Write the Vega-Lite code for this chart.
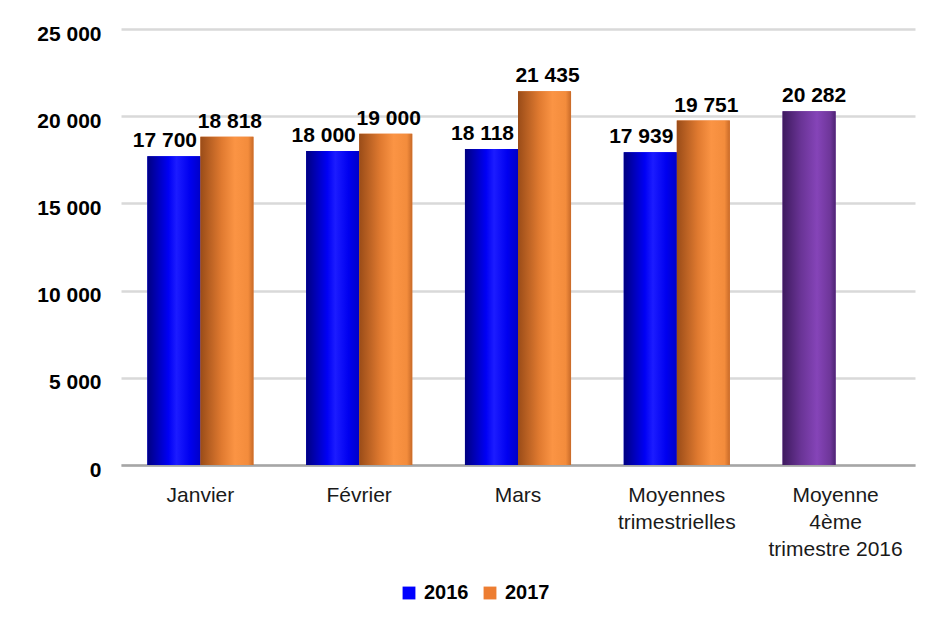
{
  "$schema": "https://vega.github.io/schema/vega-lite/v6.json",
  "width": 794,
  "height": 436,
  "autosize": {"type": "none"},
  "padding": {"left": 121, "top": 29, "right": 10, "bottom": 154},
  "background": "white",
  "config": {
    "locale": {"number": {"decimal": ",", "thousands": " ", "grouping": [3], "currency": ["", " €"]}},
    "view": {"stroke": null},
    "font": "Liberation Sans"
  },
  "data": {
    "values": [
      {"periode": "Janvier", "annee": "2016", "couleur": "2016", "valeur": 17700},
      {"periode": "Janvier", "annee": "2017", "couleur": "2017", "valeur": 18818},
      {"periode": "Février", "annee": "2016", "couleur": "2016", "valeur": 18000},
      {"periode": "Février", "annee": "2017", "couleur": "2017", "valeur": 19000},
      {"periode": "Mars", "annee": "2016", "couleur": "2016", "valeur": 18118},
      {"periode": "Mars", "annee": "2017", "couleur": "2017", "valeur": 21435},
      {"periode": "Moyennes trimestrielles", "annee": "2016", "couleur": "2016", "valeur": 17939},
      {"periode": "Moyennes trimestrielles", "annee": "2017", "couleur": "2017", "valeur": 19751},
      {"periode": "Moyenne 4ème trimestre 2016", "annee": "2016", "couleur": "T4 2016", "valeur": 20282}
    ]
  },
  "encoding": {
    "x": {
      "field": "periode",
      "type": "nominal",
      "sort": null,
      "scale": {"paddingInner": 0.332, "paddingOuter": 0.166},
      "axis": {
        "title": null,
        "labelAngle": 0,
        "labelFont": "Liberation Sans",
        "labelFontSize": 21,
        "labelColor": "#1a1a1a",
        "labelPadding": 19,
        "labelLineHeight": 27,
        "ticks": false,
        "domain": true,
        "domainColor": "#a6a6a6",
        "domainWidth": 2.5,
        "labelExpr": "datum.label == 'Moyennes trimestrielles' ? ['Moyennes', 'trimestrielles'] : datum.label == 'Moyenne 4ème trimestre 2016' ? ['Moyenne', '4ème', 'trimestre 2016'] : datum.label"
      }
    },
    "xOffset": {"field": "annee", "type": "nominal", "scale": {"domain": ["2016", "2017"], "paddingInner": 0, "paddingOuter": 0}},
    "y": {
      "field": "valeur",
      "type": "quantitative",
      "scale": {"domain": [0, 25000], "nice": false},
      "axis": {
        "title": null,
        "values": [0, 5000, 10000, 15000, 20000, 25000],
        "format": ",d",
        "labelFont": "Liberation Sans",
        "labelFontWeight": "bold",
        "labelFontSize": 21,
        "labelColor": "#000000",
        "labelPadding": 20,
        "labelOffset": 5,
        "ticks": false,
        "domain": false,
        "grid": true,
        "gridColor": "#d9d9d9",
        "gridWidth": 2.5
      }
    }
  },
  "layer": [
    {
      "mark": {"type": "bar"},
      "encoding": {
        "color": {
          "field": "couleur",
          "type": "nominal",
          "scale": {
            "domain": ["2016", "2017", "T4 2016"],
            "range": ["#0000ff", "#ed7d31", "#7030a0"]
          },
          "legend": {
            "values": ["2016", "2017"],
            "title": null,
            "orient": "none",
            "direction": "horizontal",
            "legendX": 278,
            "legendY": 554,
            "symbolType": "square",
            "symbolSize": 165,
            "symbolStrokeWidth": 0,
            "symbolOpacity": 1,
            "labelFont": "Liberation Sans",
            "labelFontWeight": "bold",
            "labelFontSize": 20,
            "labelColor": "#000000",
            "labelOffset": 5,
            "columnPadding": 11
          }
        }
      }
    },
    {
      "transform": [{"filter": "datum.couleur == '2016'"}],
      "mark": {"type": "bar", "color": {"gradient": "linear", "x1": 0, "y1": 0, "x2": 1, "y2": 0, "stops": [
        {"offset": 0, "color": "#000080"},
        {"offset": 0.4, "color": "#0000f5"},
        {"offset": 0.55, "color": "#1c1cff"},
        {"offset": 0.8, "color": "#0000f0"},
        {"offset": 1, "color": "#0000c8"}
      ]}}
    },
    {
      "transform": [{"filter": "datum.couleur == '2017'"}],
      "mark": {"type": "bar", "color": {"gradient": "linear", "x1": 0, "y1": 0, "x2": 1, "y2": 0, "stops": [
        {"offset": 0, "color": "#9a4c18"},
        {"offset": 0.4, "color": "#e07a30"},
        {"offset": 0.65, "color": "#fb9444"},
        {"offset": 0.9, "color": "#f38c3c"},
        {"offset": 1, "color": "#c86a28"}
      ]}}
    },
    {
      "transform": [{"filter": "datum.couleur == 'T4 2016'"}],
      "mark": {"type": "bar", "color": {"gradient": "linear", "x1": 0, "y1": 0, "x2": 1, "y2": 0, "stops": [
        {"offset": 0, "color": "#3e1a5e"},
        {"offset": 0.35, "color": "#6a3496"},
        {"offset": 0.65, "color": "#8544b8"},
        {"offset": 0.9, "color": "#6e3699"},
        {"offset": 1, "color": "#4e2474"}
      ]}}
    },
    {
      "transform": [{"filter": "datum.couleur == '2016'"}],
      "mark": {"type": "text", "baseline": "alphabetic", "dy": -9, "dx": -9, "font": "Liberation Sans", "fontWeight": "bold", "fontSize": 21, "color": "#000000"},
      "encoding": {
        "text": {"field": "valeur", "type": "quantitative", "format": ",d"}
      }
    },
    {
      "transform": [{"filter": "datum.couleur == '2017'"}],
      "mark": {"type": "text", "baseline": "alphabetic", "dy": -9, "dx": 3, "font": "Liberation Sans", "fontWeight": "bold", "fontSize": 21, "color": "#000000"},
      "encoding": {
        "text": {"field": "valeur", "type": "quantitative", "format": ",d"}
      }
    },
    {
      "transform": [{"filter": "datum.couleur == 'T4 2016'"}],
      "mark": {"type": "text", "baseline": "alphabetic", "dy": -9, "dx": 5, "font": "Liberation Sans", "fontWeight": "bold", "fontSize": 21, "color": "#000000"},
      "encoding": {
        "text": {"field": "valeur", "type": "quantitative", "format": ",d"}
      }
    }
  ]
}
